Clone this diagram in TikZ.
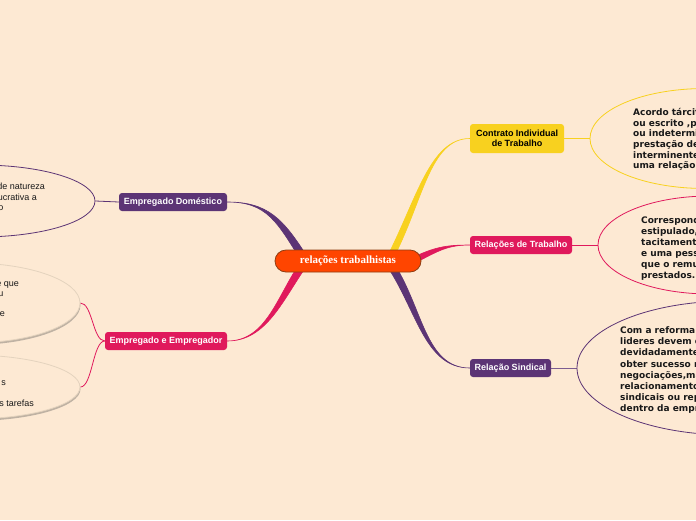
\documentclass[tikz,border=0pt]{standalone}
\usepackage{fontspec}
\setmainfont{Liberation Serif}
\newfontfamily\labelfont{Liberation Sans}
\newfontfamily\notefont{DejaVu Sans}
\usetikzlibrary{shapes.geometric,calc,shadows}
\definecolor{bg}{HTML}{FDE9D3}
\definecolor{gold}{HTML}{F8D11F}
\definecolor{crim}{HTML}{E0195C}
\definecolor{purp}{HTML}{5C3475}
\definecolor{orng}{HTML}{FF4500}
\definecolor{brwn}{HTML}{8E3D12}
\definecolor{pale}{HTML}{E4D3BE}
\pgfdeclarelayer{backlayer}
\pgfdeclarelayer{linklayer}
\pgfsetlayers{backlayer,linklayer,main}
\newcommand\branch[6]{\filldraw[#1, line width=0.6pt] ($(#2)+(#3)$) .. controls +(#4) and +(#5) .. (#6) .. controls +(#5) and +(#4) .. ($(#2)-(#3)$) -- cycle;}
\begin{document}
\begin{tikzpicture}[x=1pt,y=-1pt,
  topic/.style={rectangle, rounded corners=3pt, inner sep=0pt, align=center, text=white,
    font=\labelfont\bfseries\fontsize{9}{10.5}\selectfont},
  noteell/.style={ellipse, inner sep=0pt, line width=0.8pt},
  paleell/.style={noteell, draw=pale, fill=bg,
    drop shadow={shadow xshift=0.5pt, shadow yshift=-2pt, opacity=0.35, fill=black!70}},
  rtext/.style={anchor=base west, inner sep=0pt, text=black!90,
    font=\notefont\bfseries\fontsize{9}{11}\selectfont},
  ltext/.style={anchor=base east, inner sep=0pt, text=black!90,
    font=\labelfont\fontsize{9}{11}\selectfont},
  sublink/.style={line width=0.8pt}]
\useasboundingbox (0,0) rectangle (696,520);
\begin{pgfonlayer}{backlayer}
\fill[bg] (0,0) rectangle (696,520);
\end{pgfonlayer}
\clip (0,0) rectangle (696,520);

% ellipses
\node[noteell, draw=gold, minimum width=230pt, minimum height=100pt] (ecit) at (705,138.5) {};
\node[noteell, draw=crim, minimum width=224pt, minimum height=98pt] (ert) at (710,245) {};
\node[noteell, draw=purp, minimum width=306pt, minimum height=134pt] (ers) at (730,368) {};
\node[noteell, draw=purp, minimum width=230pt, minimum height=72pt] (eed) at (-20,201) {};
\node[paleell, minimum width=220pt, minimum height=80pt] (eea) at (-30,303) {};
\node[paleell, minimum width=220pt, minimum height=64pt] (eeb) at (-30,387) {};

% main nodes
\node[topic, fill=orng, draw=brwn, line width=0.8pt, rounded corners=11pt,
  minimum width=146pt, minimum height=22pt,
  font=\bfseries\fontsize{11}{13}\selectfont] (ctr) at (348,261) {relações trabalhistas};
\node[topic, fill=gold, text=black, minimum width=94pt, minimum height=29pt] (cit) at (517,138.5) {Contrato Individual\\de Trabalho};
\node[topic, fill=crim, minimum width=102pt, minimum height=18pt] (rt) at (521,245) {Relações de Trabalho};
\node[topic, fill=purp, minimum width=81pt, minimum height=18pt] (rs) at (510.5,368) {Relação Sindical};
\node[topic, fill=purp, minimum width=108pt, minimum height=18pt] (ed) at (173,202) {Empregado Doméstico};
\node[topic, fill=crim, minimum width=122pt, minimum height=18pt] (ee) at (166,341) {Empregado e Empregador};

% branch start points (inside the central node)
\coordinate (b1) at (390,258);
\coordinate (b2) at (410,262);
\coordinate (b3) at (390,264);
\coordinate (b4) at (305,260);
\coordinate (b5) at (305,262);

\begin{pgfonlayer}{linklayer}
\branch{gold}{b1}{3.5,0}{30,-58}{-40,0}{cit.west}
\branch{crim}{b2}{1,2.8}{25,-12}{-25,0}{rt.west}
\branch{purp}{b3}{3,-2}{30,45}{-45,0}{rs.west}
\branch{purp}{b4}{3,-2}{-25,-40}{40,0}{ed.east}
\branch{crim}{b5}{3,2}{-25,35}{40,0}{ee.east}
\draw[sublink, gold] (cit.east) -- (ecit.west);
\draw[sublink, crim] (rt.east) -- (ert.west);
\draw[sublink, purp!80] (rs.east) -- (ers.west);
\draw[sublink, purp] (ed.west) -- (eed.east);
\draw[sublink, crim] (ee.west) .. controls +(-12,0) and +(12,0) .. (eea.east);
\draw[sublink, crim] (ee.west) .. controls +(-12,0) and +(12,0) .. (eeb.east);
\end{pgfonlayer}

% texts of the right notes
\foreach \t [count=\i from 0] in {{Acordo tárcito}, {ou escrito ,por}, {ou indeterminado}, {prestação de}, {interminente}, {uma relação}}
  \node[rtext] (tc\i) at (633,115.3+10.7*\i) {\t};
\foreach \t [count=\i from 0] in {{Corresponde}, {estipulado,}, {tacitamente}, {e uma pessoa}, {que o remunera}, {prestados.}}
  \node[rtext] (tr\i) at (641,223.5+11*\i) {\t};
\foreach \t [count=\i from 0] in {{Com a reforma}, {lideres devem estar}, {devidadamente}, {obter sucesso nas}, {negociações,mas}, {relacionamento}, {sindicais ou repre}, {dentro da empresa}}
  \node[rtext] (ts\i) at (620,333.5+11.2*\i) {\t};

% texts of the left notes
\node[ltext] (ld1) at (45,189) {de natureza};
\node[ltext] (ld2) at (37,200) {lucrativa a};
\node[ltext] (ld3) at (3.5,210) {o};
\node[ltext] (la1) at (19,286) {e que};
\node[ltext] (la2) at (3.5,296) {u};
\node[ltext] (la3) at (5,316) {e};
\node[ltext] (lb1) at (6,385) {s};
\node[ltext] (lb2) at (34,406) {s tarefas};
\end{tikzpicture}
\end{document}
